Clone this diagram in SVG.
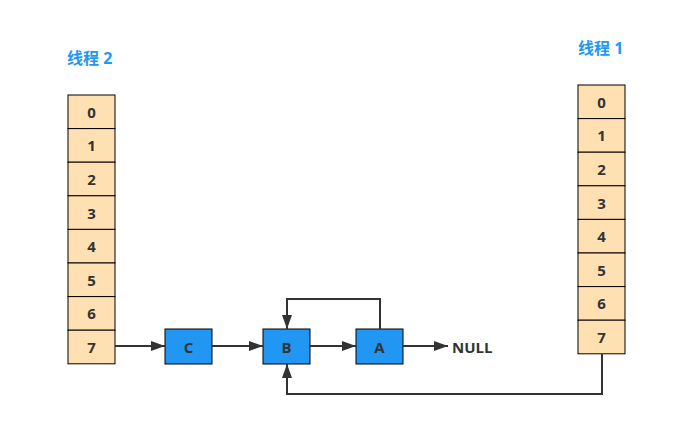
<svg xmlns="http://www.w3.org/2000/svg" width="690" height="436" viewBox="0 0 690 436">
<style>
.cell{fill:#ffe0b3;stroke:#000;stroke-width:1}
.num{font-family:"Open Sans","Liberation Sans","Noto Sans CJK SC",sans-serif;font-weight:bold;font-size:15px;fill:#333;text-anchor:middle;dominant-baseline:central}
.title{font-family:"Open Sans","Noto Sans CJK SC",sans-serif;font-weight:bold;font-size:16px;fill:#2196f3}
.node{fill:#2196f3;stroke:#000;stroke-width:1}
.edge{fill:none;stroke:#333;stroke-width:2}
</style>
<defs>
<marker id="ah2" viewBox="0 0 14 10" refX="14" refY="5" markerWidth="14" markerHeight="10" markerUnits="userSpaceOnUse" orient="auto">
<path d="M0,0 L14,5 L0,10 z" fill="#333"/>
</marker>
</defs>
<g id="thread2">
<text class="title" x="67" y="64">线程 2</text>
<rect class="cell" x="68" y="95" width="47" height="33.6"/><text class="num" x="91.5" y="111.8">0</text>
<rect class="cell" x="68" y="128.6" width="47" height="33.6"/><text class="num" x="91.5" y="145.4">1</text>
<rect class="cell" x="68" y="162.2" width="47" height="33.6"/><text class="num" x="91.5" y="179">2</text>
<rect class="cell" x="68" y="195.8" width="47" height="33.6"/><text class="num" x="91.5" y="212.6">3</text>
<rect class="cell" x="68" y="229.4" width="47" height="33.6"/><text class="num" x="91.5" y="246.2">4</text>
<rect class="cell" x="68" y="263" width="47" height="33.6"/><text class="num" x="91.5" y="279.8">5</text>
<rect class="cell" x="68" y="296.6" width="47" height="33.6"/><text class="num" x="91.5" y="313.4">6</text>
<rect class="cell" x="68" y="330.2" width="47" height="33.6"/><text class="num" x="91.5" y="347">7</text>
</g>
<g id="thread1">
<text class="title" x="578" y="54">线程 1</text>
<rect class="cell" x="578" y="85" width="47" height="33.6"/><text class="num" x="601.5" y="101.8">0</text>
<rect class="cell" x="578" y="118.6" width="47" height="33.6"/><text class="num" x="601.5" y="135.4">1</text>
<rect class="cell" x="578" y="152.2" width="47" height="33.6"/><text class="num" x="601.5" y="169">2</text>
<rect class="cell" x="578" y="185.8" width="47" height="33.6"/><text class="num" x="601.5" y="202.6">3</text>
<rect class="cell" x="578" y="219.4" width="47" height="33.6"/><text class="num" x="601.5" y="236.2">4</text>
<rect class="cell" x="578" y="253" width="47" height="33.6"/><text class="num" x="601.5" y="269.8">5</text>
<rect class="cell" x="578" y="286.6" width="47" height="33.6"/><text class="num" x="601.5" y="303.4">6</text>
<rect class="cell" x="578" y="320.2" width="47" height="33.6"/><text class="num" x="601.5" y="337">7</text>
</g>
<g id="C"><rect class="node" x="165" y="329" width="47" height="35"/><text class="num" x="188.5" y="346.5">C</text></g>
<g id="B"><rect class="node" x="263" y="329" width="47" height="35"/><text class="num" x="286.5" y="346.5">B</text></g>
<g id="A"><rect class="node" x="356" y="329" width="47" height="35"/><text class="num" x="379.5" y="346.5">A</text></g>
<g id="NULL"><text class="num" x="452" y="346.5" style="text-anchor:start">NULL</text></g>
<g id="connectors">
<path class="edge" d="M115,346 L165,346" marker-end="url(#ah2)"/>
<path class="edge" d="M212,346 L263,346" marker-end="url(#ah2)"/>
<path class="edge" d="M310,346 L356,346" marker-end="url(#ah2)"/>
<path class="edge" d="M403,346 L448,346" marker-end="url(#ah2)"/>
<path class="edge" d="M380,329 L380,299 L287,299 L287,329" marker-end="url(#ah2)"/>
<path class="edge" d="M602,354 L602,394 L287,394 L287,364" marker-end="url(#ah2)"/>
</g>
</svg>
